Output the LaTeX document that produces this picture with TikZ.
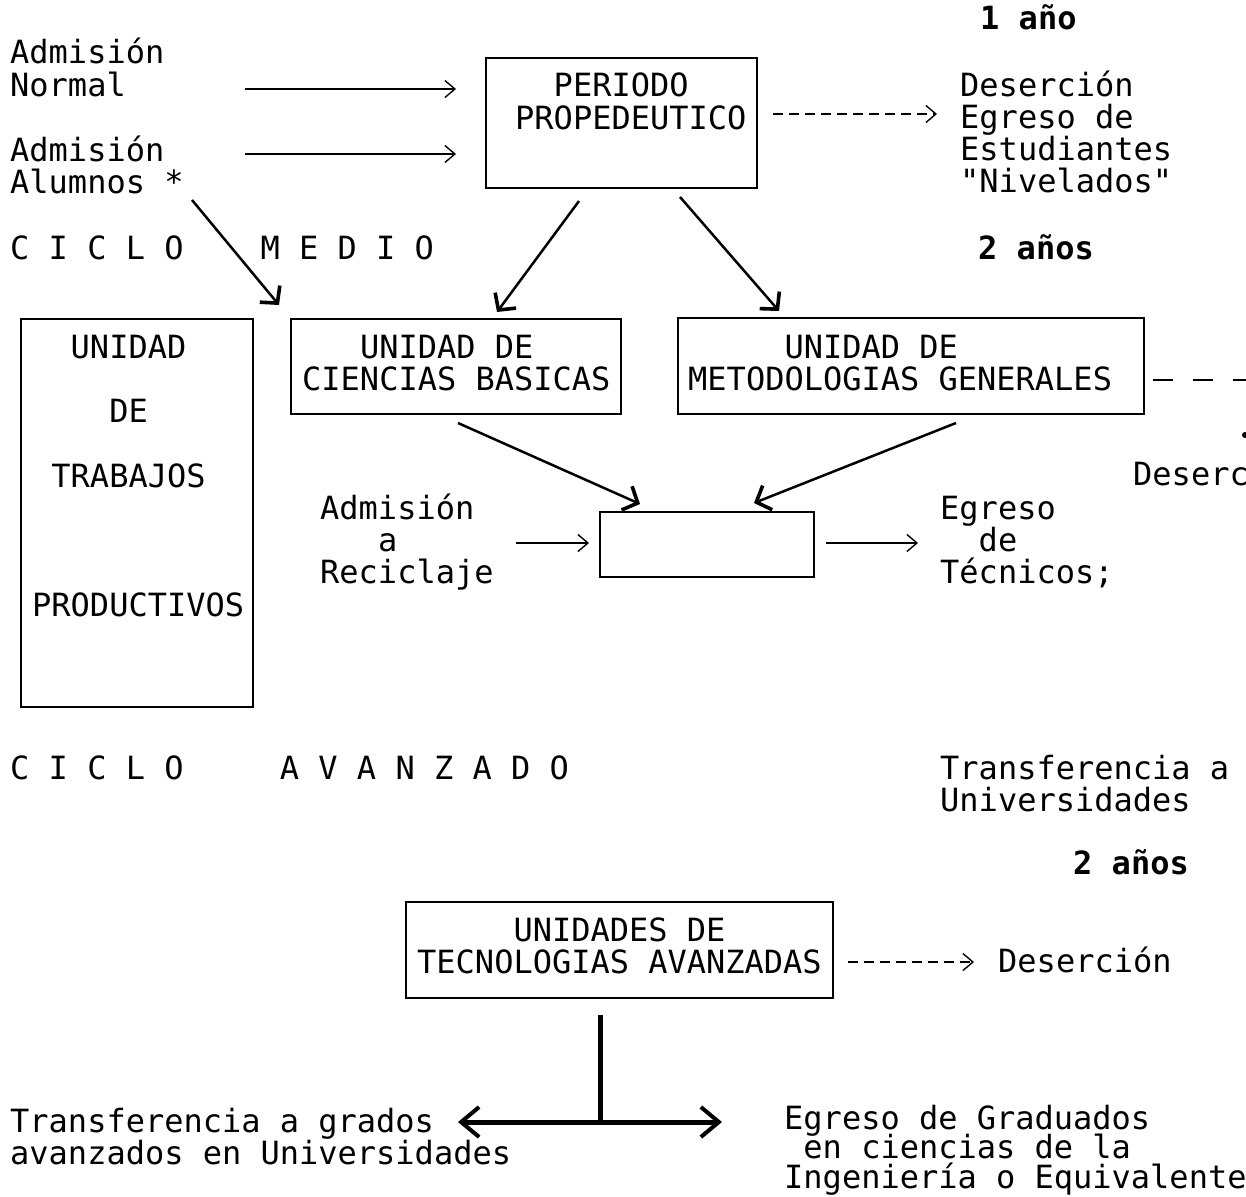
\documentclass[tikz,border=0pt]{standalone}
\usepackage{fontspec}
\newfontfamily\mono{DejaVu Sans Mono}
\usetikzlibrary{arrows.meta}
\newcommand\mlines[2][32.3pt]{\vtop{\baselineskip=#1\lineskiplimit=-1000pt\lineskip=0pt\let\\\cr\halign{##\hfil\cr#2\crcr}}}
\begin{document}
\begin{tikzpicture}[x=1pt,y=-1pt,
  txt/.style={font=\mono\fontsize{32}{32.3}\selectfont, inner sep=0pt, anchor=base west},
  btxt/.style={font=\mono\bfseries\fontsize{32}{32.3}\selectfont, inner sep=0pt, anchor=base west},
  box/.style={draw, line width=2pt, inner sep=0pt, anchor=north west},
  thinarrow/.style={line width=1.4pt, -{Straight Barb[length=10pt,width=17pt,line width=1.4pt]}},
  dasharrow/.style={line width=1.4pt, dash pattern=on 10pt off 6pt, -{Straight Barb[length=10pt,width=17pt,line width=1.4pt]}},
  thickarrow/.style={line width=2.5pt, -{Straight Barb[length=12pt,width=26pt,line width=3.6pt]}},
  tarrow/.style={line width=5pt, {Straight Barb[length=18pt,width=30pt,line width=4pt]}-{Straight Barb[length=18pt,width=30pt,line width=4pt]}}
]
\useasboundingbox (0,0) rectangle (1246,1196);
\clip (0,0) rectangle (1246,1196);

% boxes
\node[box, minimum width=271pt, minimum height=130pt] (per) at (485,57) {};
\node[box, minimum width=232pt, minimum height=388pt] (trab) at (20,318) {};
\node[box, minimum width=330pt, minimum height=95pt] (cb) at (290,318) {};
\node[box, minimum width=466pt, minimum height=96pt] (mg) at (677,317) {};
\node[box, minimum width=214pt, minimum height=65pt] (recic) at (599,511) {};
\node[box, minimum width=427pt, minimum height=96pt] (ta) at (405,901) {};

% texts
\node[btxt] (y1) at (980,30) {1 año};
\node[txt] (adn) at (10,64) {\mlines{Admisión\\Normal}};
\node[txt] (ada) at (10,161) {\mlines{Admisión\\Alumnos *}};
\node[txt] (pert) at (515,97) {\mlines{~~PERIODO\\PROPEDEUTICO}};
\node[txt] (des1) at (960,96) {\mlines{Deserción\\Egreso de\\Estudiantes\\"Nivelados"}};
\node[txt] (cm) at (10,259) {C~I~C~L~O~~~~M~E~D~I~O};
\node[btxt] (y2) at (978,259) {2 años};
\node[txt] (trabt) at (32,358) {\mlines{~~UNIDAD\\\\~~~~DE\\\\~TRABAJOS\\\\\\\\PRODUCTIVOS}};
\node[txt] (cbt) at (302,358) {\mlines{~~~UNIDAD DE\\CIENCIAS BASICAS}};
\node[txt] (mgt) at (688,358) {\mlines{~~~~~UNIDAD DE\\METODOLOGIAS GENERALES}};
\node[txt] (desr) at (1133,485) {Deserción};
\node[txt] (adr) at (320,519) {\mlines{Admisión\\~~~a\\Reciclaje}};
\node[txt] (egt) at (940,519) {\mlines{Egreso\\~~de\\Técnicos;}};
\node[txt] (cav) at (10,779) {C~I~C~L~O~~~~~A~V~A~N~Z~A~D~O};
\node[txt] (tu) at (940,779) {\mlines{Transferencia a\\Universidades}};
\node[btxt] (y3) at (1073,874) {2 años};
\node[txt] (tat) at (417,941) {\mlines{~~~~~UNIDADES DE\\TECNOLOGIAS AVANZADAS}};
\node[txt] (des3) at (998,972) {Deserción};
\node[txt] (tg) at (10,1132) {\mlines{Transferencia a grados\\avanzados en Universidades}};
\node[txt] (eg) at (784,1129) {\mlines[29.5pt]{Egreso de Graduados\\~en ciencias de la\\Ingeniería o Equivalente}};

% coordinates
\coordinate (a1s) at (245,89);
\coordinate (a2s) at (245,154);
\coordinate (d1s) at (756,114);
\coordinate (a3s) at (192,200);
\coordinate (a3e) at (279,305);
\coordinate (a4s) at (579,201);
\coordinate (a4e) at (497,312);
\coordinate (a5s) at (680,197);
\coordinate (a5e) at (779,311);
\coordinate (a6s) at (458,423);
\coordinate (a6e) at (640,504);
\coordinate (a7s) at (956,423);
\coordinate (a7e) at (754,503);
\coordinate (a8s) at (516,543);
\coordinate (a9s) at (826,543);
\coordinate (a9e) at (918,543);
\coordinate (rds) at (1153,380);
\coordinate (rde) at (1262,380);
\coordinate (tds) at (848,962);
\coordinate (tvs) at (600,1015);
\coordinate (tj) at (600,1122);
\coordinate (tl) at (458,1122);
\coordinate (tr) at (722,1122);

% connectors
\draw[thinarrow, shorten >=29pt] (a1s) -- (a1s -| per.west);
\draw[thinarrow, shorten >=29pt] (a2s) -- (a2s -| per.west);
\draw[dasharrow, shorten <=17pt, shorten >=23pt] (d1s) -- (d1s -| des1.west);
\draw[thickarrow] (a3s) -- (a3e);
\draw[thickarrow] (a4s) -- (a4e);
\draw[thickarrow] (a5s) -- (a5e);
\draw[thickarrow] (a6s) -- (a6e);
\draw[thickarrow] (a7s) -- (a7e);
\draw[thinarrow, shorten >=10pt] (a8s) -- (a8s -| recic.west);
\draw[thinarrow] (a9s) -- (a9e);
\draw[line width=2.5pt, dash pattern=on 20pt off 20pt] (rds) -- (rde);
\fill (1245,435) circle (3pt);
\draw[dasharrow, shorten >=24pt] (tds) -- (tds -| des3.west);
\draw[line width=5pt] (tvs) -- (tj);
\draw[tarrow] (tl) -- (tr);
\end{tikzpicture}
\end{document}
